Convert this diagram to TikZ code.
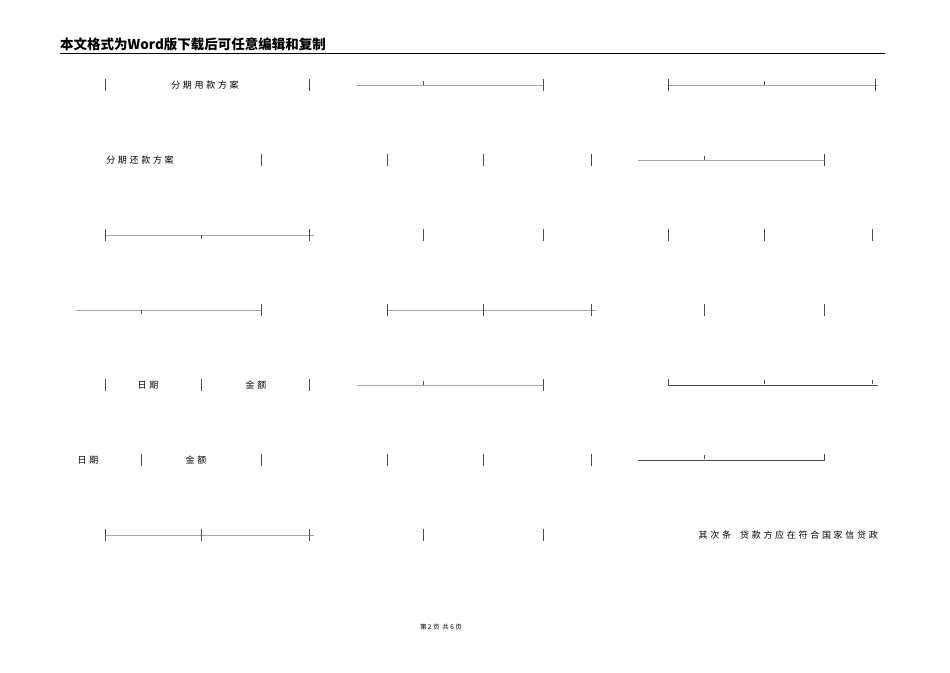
\documentclass[tikz,border=0pt]{standalone}
\usepackage{fontspec}
\newfontfamily\cjk{Noto Sans CJK SC}
\newfontfamily\cjksp[LetterSpace=30]{Noto Sans CJK SC}
\begin{document}
\begin{tikzpicture}[x=1pt,y=-1pt,
  hl/.style={draw=gray!70,line width=0.6pt},
  tk/.style={draw=black!70,line width=0.6pt},
  txt/.style={font=\cjksp\fontsize{9}{9}\selectfont,inner sep=0pt}]
\useasboundingbox (0,0) rectangle (950,672);
\node[font=\cjk\bfseries\fontsize{13.5}{14}\selectfont,anchor=west,inner sep=0pt] (hd) at (60,44) {本文格式为Word版下载后可任意编辑和复制};
\draw[line width=0.8pt] (60,53) -- (885,53);
\newcommand\mytick[2]{\draw[tk] (#1,#2-6) -- (#1,#2+6);}
\newcommand\mystick[2]{\draw[tk] (#1,#2) -- (#1,#2+4);}
\newcommand\myhl[3]{\draw[hl] (#1,#3) -- (#2,#3);}
% row 1
\mytick{105}{85}\mytick{309}{85}
\node[txt] (t1) at (205,85) {分期用款方案};
\myhl{357}{543}{85}\mystick{423}{81}\mytick{543}{85}
\myhl{668}{878}{85}\mytick{668}{85}\mystick{764}{81}\mytick{875}{85}
% row 2
\node[txt] (t2) at (140,160) {分期还款方案};
\mytick{261}{160}\mytick{387}{160}\mytick{483}{160}\mytick{591}{160}
\myhl{638}{824}{160}\mystick{704}{156}\mytick{824}{160}
% row 3
\myhl{105}{314}{235}\mytick{105}{235}\mystick{201}{235}\mytick{309}{235}
\mytick{423}{235}\mytick{543}{235}\mytick{668}{235}\mytick{764}{235}\mytick{872}{235}
% row 4
\myhl{76}{261}{310}\mystick{141}{310}\mytick{261}{310}
\myhl{387}{596}{310}\mytick{387}{310}\mytick{483}{310}\mytick{591}{310}
\mytick{704}{310}\mytick{824}{310}
% row 5
\mytick{105}{385}\mytick{201}{385}\mytick{309}{385}
\node[txt] (d1) at (148,385) {日期};
\node[txt] (a1) at (256,385) {金额};
\myhl{357}{543}{385}\mystick{423}{381}\mytick{543}{385}
\draw[tk] (668,379) -- (668,385) -- (878,385);\mystick{764}{380}\mystick{872}{380}
% row 6
\node[txt] (d2) at (88,460) {日期};
\node[txt] (a2) at (196,460) {金额};
\mytick{141}{460}\mytick{261}{460}\mytick{387}{460}\mytick{483}{460}\mytick{591}{460}
\draw[tk] (638,460) -- (824,460) -- (824,454);\mystick{704}{455}
% row 7
\myhl{105}{314}{535}\mytick{105}{535}\mytick{201}{535}\mytick{309}{535}
\mytick{423}{535}\mytick{543}{535}
\node[txt,anchor=east] (p) at (878,535) {其次条\quad 贷款方应在符合国家信贷政};
\node[font=\cjk\fontsize{6.5}{7}\selectfont,inner sep=0pt] (ft) at (441,627) {第\ 2\ 页\ \ 共\ 6\ 页};
\end{tikzpicture}
\end{document}
